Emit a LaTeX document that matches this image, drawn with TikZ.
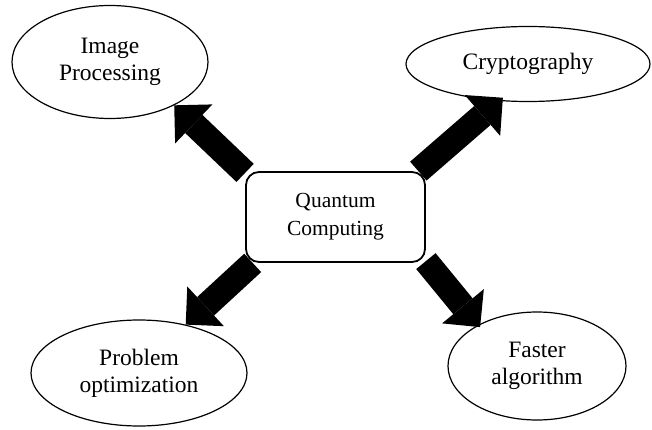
\documentclass[tikz,border=0pt]{standalone}
\usepackage{fontspec}
\setmainfont{Liberation Serif}
\usetikzlibrary{shapes.geometric,arrows.meta,backgrounds}

\begin{document}
\begin{tikzpicture}[x=1pt,y=-1pt,
        topic/.style={ellipse,draw,line width=1.2pt,inner sep=0pt,align=center,font=\fontsize{23.5}{27}\selectfont},
        hub/.style={rectangle,draw,rounded corners=13pt,line width=1.8pt,fill=white,align=center,
            minimum width=179pt,minimum height=90pt,font=\fontsize{21.5}{28}\selectfont},
        fatarrow/.style={line width=25pt,-{Triangle[width=54pt,length=27pt,line width=0pt]}}]
        \useasboundingbox (0,0) rectangle (652,430);
        % Draw the central box
        \node[hub] (qc) at (335.5,217) {Quantum\\Computing};
        % Draw the four ellipses around it
        \node[topic,minimum width=196pt,minimum height=113pt] (img) at (110,62) {Image\\Processing};
        \node[topic,minimum width=244pt,minimum height=75pt] (crypt) at (528,64) {Cryptography};
        \node[topic,minimum width=216pt,minimum height=106pt] (prob) at (139,373) {Problem\\optimization};
        \node[topic,minimum width=178pt,minimum height=108pt] (fast) at (537,366) {Faster\\algorithm};
        % Draw the thick arrows behind the box
        \begin{pgfonlayer}{background}
            \draw[fatarrow] (qc.154) -- (img.-34);
            \draw[fatarrow,shorten >=-5pt] (qc.29) -- (crypt.-128);
            \draw[fatarrow] (qc.209) -- (prob.46);
            \draw[fatarrow,shorten >=-3pt] (qc.-26) -- (fast.145);
        \end{pgfonlayer}
    \end{tikzpicture}
\end{document}
